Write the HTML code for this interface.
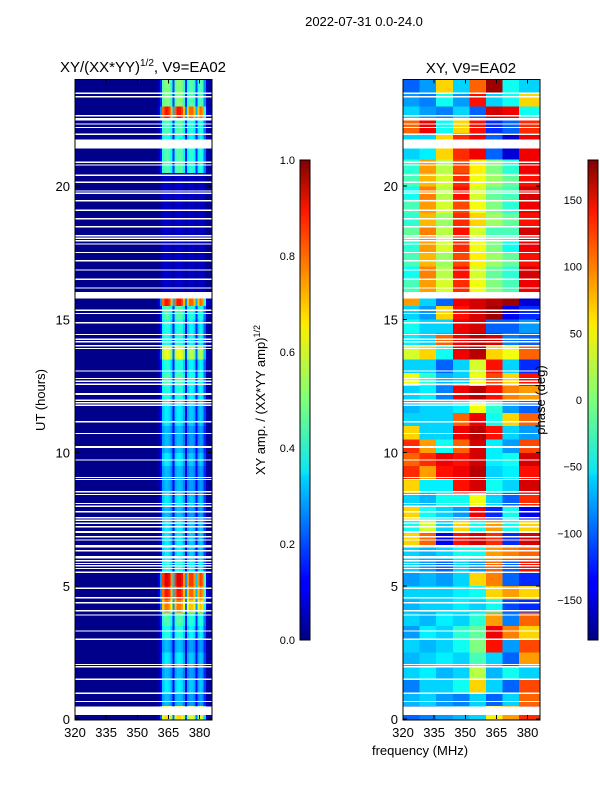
<!DOCTYPE html>
<html><head><meta charset="utf-8"><style>
html,body{margin:0;padding:0;background:#fff;}
body{width:600px;height:800px;overflow:hidden;font-family:"Liberation Sans","DejaVu Sans",sans-serif;}
svg text{font-family:"Liberation Sans","DejaVu Sans",sans-serif;fill:#000;}
</style></head><body>
<svg id="fig" width="600" height="800" viewBox="0 0 600 800" xmlns="http://www.w3.org/2000/svg" shape-rendering="crispEdges">
<defs>
<linearGradient id="jet" x1="0" y1="1" x2="0" y2="0">
<stop offset="0" stop-color="#000080"/><stop offset="0.11" stop-color="#0000ff"/><stop offset="0.125" stop-color="#0000ff"/>
<stop offset="0.34" stop-color="#00d4ff"/><stop offset="0.35" stop-color="#0de5f2"/><stop offset="0.5" stop-color="#7dff7a"/>
<stop offset="0.64" stop-color="#f2f00d"/><stop offset="0.66" stop-color="#ffea00"/><stop offset="0.89" stop-color="#ff1a00"/>
<stop offset="1" stop-color="#800000"/>
</linearGradient>
</defs>
<text x="364" y="26" font-size="13" text-anchor="middle">2022-07-31 0.0-24.0</text>
<text x="143" y="72" font-size="15" text-anchor="middle">XY/(XX*YY)<tspan font-size="10" dy="-6">1/2</tspan><tspan dy="6">, V9=EA02</tspan></text>
<text x="471" y="73" font-size="15" text-anchor="middle">XY, V9=EA02</text>
<g id="leftCells"></g>
<g id="rightCells"></g>
<g id="axes"></g>
<rect x="300" y="160" width="10" height="480" fill="url(#jet)" stroke="#000" stroke-width="1"/>
<rect x="588" y="160" width="10" height="480" fill="url(#jet)" stroke="#000" stroke-width="1"/>
<text transform="translate(45,400) rotate(-90)" font-size="13" text-anchor="middle">UT (hours)</text>
<text x="420" y="755" font-size="13" text-anchor="middle">frequency (MHz)</text>
<text transform="translate(265,400) rotate(-90)" font-size="13" text-anchor="middle">XY amp. / (XX*YY amp)<tspan font-size="9" dy="-5">1/2</tspan></text>
<text transform="translate(545,400) rotate(-90)" font-size="13" text-anchor="middle">phase (deg)</text>
</svg>
<script>
// ---- data ----
var ampLevel = [0.65,0.3,0.35,0.3,0.35,0.3,0.4,0.45,0.75,0.85,0.9,0.4,0.35,0.35,0.35,0.3,0.35,0.3,0.3,0.35,0.3,0.3,0.35,0.35,0.4,0.45,0.4,0.6,0.4,0.4,0.45,0.85,0.06,0.06,0.06,0.06,0.06,0.06,0.06,0.06,0.06,0.45,0.45,0.4,0.45,0.85,0.5,0.5];
var gainFreqs = [360,361,362,363,364,365,366,367,368,369,370,371,372,373,374,375,376,377,378,379,380,381,382,383,384,385];
var chanGain = [0.1,0.3,0.9,1,1,0.95,0.8,0.35,0.9,1,1,0.95,0.8,0.3,0.8,0.9,0.9,0.8,0.35,0.8,0.9,0.85,0.5,0.1,0.05,0.05];
var phaseCols = [320,328,336,344,352,360,368,376,386];
var phase = [
[-100,-90,-80,-70,-60,50,80,120],[-70,-60,-80,-90,-60,-100,-60,100],[-90,-60,-60,-40,60,-60,-100,110],[-60,-50,-70,-60,20,-70,-40,-60],
[-70,-60,-50,-60,-20,-60,-100,80],[-60,-70,-60,-40,0,130,-80,110],[-80,-50,-60,-30,-10,140,90,60],[-60,-70,-50,-60,-30,80,-90,100],
[-70,-60,-60,-50,-60,-40,-110,-120],[-60,-60,-60,-50,-40,60,80,60],[-80,-70,-80,-60,60,90,-100,-120],[-60,-80,-100,-60,-80,100,-100,130],
[-60,-70,-60,-40,-40,80,90,100],[60,100,-140,130,150,120,-120,150],[-40,30,-60,60,-40,80,-40,60],[60,-40,-60,-80,140,-120,-40,-140],
[-60,-70,-40,-40,40,-60,-100,120],[60,-50,-50,130,150,-40,-60,150],[120,80,130,140,160,-60,-50,130],[100,120,140,130,150,-50,-40,150],
[120,80,-40,100,150,-50,-80,110],[60,-60,-60,140,160,130,-60,-80],[-60,-60,-60,100,140,-40,60,100],[-70,-60,-60,-50,40,-30,-80,-100],
[-60,-50,-90,140,160,130,90,80],[40,-30,-70,-60,40,110,60,130],[-60,-60,-100,-60,30,130,-60,-120],[30,60,-40,140,160,60,40,100],
[-50,-60,100,140,160,150,-90,-100],[-40,-60,-60,140,150,-100,-100,-80],[-60,-80,60,130,150,170,-140,-120],[80,-60,-100,140,150,160,170,-150],
[-20,80,30,120,40,0,-20,140],[-40,90,20,130,30,-10,-30,150],[-20,70,10,110,50,10,-10,130],[-30,80,30,120,40,0,-40,140],
[-10,90,20,130,30,-20,-20,150],[-30,70,10,120,60,10,-10,130],[-20,80,30,110,40,0,-30,140],[-40,90,20,130,30,-10,-20,150],
[-20,70,30,120,40,10,-10,130],[-30,80,20,110,50,0,-30,140],[-60,-50,60,120,140,-100,-150,140],[-60,-60,60,120,140,-100,-150,140],
[100,140,-40,60,130,-120,-100,120],[-60,-80,-90,-60,-100,150,140,-40],[-80,-90,-40,-80,130,-60,-40,60],[-100,-80,60,-60,100,170,-40,-60]];
var flags = [[0.15,0.46],[0.63,0.68],[0.94,0.99],[1.47,1.52],[1.94,1.98],[2.03,2.07],[2.97,3.02],[3.28,3.33],[3.88,3.93],[4.04,4.09],[4.34,4.39],[4.53,4.58],[4.88,4.93],
[5.48,5.53],[5.63,5.67],[5.73,5.77],[5.82,5.86],[5.92,5.96],[6.03,6.12],[6.3,6.34],[6.43,6.53],[6.7,6.74],[6.82,6.86],[6.98,7.05],[7.2,7.24],[7.32,7.37],[7.43,7.48],[7.53,7.58],[7.76,7.8],[7.97,8.01],[8.07,8.11],[8.41,8.45],[8.51,8.55],[8.97,9.01],[9.05,9.09],[9.7,9.74],[10.16,10.24],[10.7,10.74],[11.14,11.18],[11.76,11.8],[11.85,11.89],
[11.95,11.99],[12.16,12.24],[12.54,12.58],[12.66,12.7],[12.76,12.8],[13.04,13.08],[13.89,13.93],[13.99,14.03],[14.14,14.18],[14.23,14.27],[14.41,14.45],[14.85,14.89],[15.2,15.24],[15.32,15.36],[15.78,16.03],[16.16,16.2],[16.49,16.53],[16.83,16.87],[17.18,17.22],[17.49,17.53],[17.8,17.85],[17.93,17.97],[18.02,18.06],[18.12,18.16],[18.45,18.49],[18.75,18.79],[19.08,19.12],[19.43,19.47],[19.71,19.75],[19.8,19.84],[20.12,20.16],[20.39,20.43],[20.77,20.81],[20.87,20.91],[21.41,21.75],[21.93,21.97],[22.18,22.22],[22.31,22.35],[22.46,22.56],[22.62,22.66],[23.33,23.37],[23.46,23.5]];
var yTicks = [0,5,10,15,20];
var xTicks = [320,335,350,365,380];
var ampTicks = [0.0,0.2,0.4,0.6,0.8,1.0];
var phaseTicks = [-150,-100,-50,0,50,100,150];
// ---- scales ----
var NS='http://www.w3.org/2000/svg';
var fMin=320,fMax=386,tMax=24,y0=719,yTop=79.4;
function yT(t){return y0-(y0-yTop)*t/tMax;}
function xF(f,left){return left+(f-fMin)*137/(fMax-fMin);}
function jet(v){v=Math.max(0,Math.min(1,v));
 function c(x){return Math.round(255*Math.max(0,Math.min(1,x)));}
 var r=c(Math.min(4*v-1.5,-4*v+4.5)),g=c(Math.min(4*v-0.5,-4*v+3.5)),b=c(Math.min(4*v+0.5,-4*v+2.5));
 return 'rgb('+r+','+g+','+b+')';}
function rect(g,x,y,w,h,fill,name){var r=document.createElementNS(NS,'rect');
 r.setAttribute('x',x);r.setAttribute('y',y);r.setAttribute('width',w);r.setAttribute('height',h);r.setAttribute('fill',fill);
 
 
 g.appendChild(r);return r;}
function txt(g,x,y,s,anchor,name){var t=document.createElementNS(NS,'text');
 t.setAttribute('x',x);t.setAttribute('y',y);t.setAttribute('font-size','13');t.setAttribute('text-anchor',anchor);t.textContent=s;
 
 
 g.appendChild(t);}
function line(g,x1,y1,x2,y2,name){var l=document.createElementNS(NS,'line');
 l.setAttribute('x1',x1);l.setAttribute('y1',y1);l.setAttribute('x2',x2);l.setAttribute('y2',y2);l.setAttribute('stroke','#000');
 
 
 g.appendChild(l);}
// ---- left amplitude ----
var gl=document.getElementById('leftCells');
var dt=tMax/ampLevel.length;
for(var i=0;i<ampLevel.length;i++){
 var ya=yT((i+1)*dt),yb=yT(i*dt);
 rect(gl,75,ya,137,yb-ya+0.3,jet(0.01),'amp-row-base');
 for(var j=0;j<gainFreqs.length;j++){
  var xa=xF(gainFreqs[j],75),xb=xF(gainFreqs[j]+1,75);
  rect(gl,xa,ya,xb-xa+0.3,yb-ya+0.3,jet(0.01+chanGain[j]*ampLevel[i]),'amp-cell');
 }
}
// ---- right phase ----
var gr=document.getElementById('rightCells');
var dp=tMax/phase.length;
for(var i=0;i<phase.length;i++){
 var ya=yT((i+1)*dp),yb=yT(i*dp);
 for(var j=0;j<phase[i].length;j++){
  var xa=xF(phaseCols[j],403),xb=xF(phaseCols[j+1],403);
  rect(gr,xa,ya,xb-xa+0.3,yb-ya+0.3,jet((phase[i][j]+180)/360),'phase-cell');
 }
}
// ---- flags ----
var panels=[[75,gl],[403,gr]];
panels.forEach(function(p){
 flags.forEach(function(f){var ya=yT(f[1]),yb=yT(f[0]);
  rect(p[1],p[0],ya,137,Math.max(1.3,yb-ya),'#ffffff','flagged-row');});
});
// ---- axes ----
var ga=document.getElementById('axes');
panels.forEach(function(p){
 var L=p[0];
 var fr=rect(ga,L,yTop,137,y0-yTop+1,'none','panel-frame');fr.setAttribute('stroke','#000');
 yTicks.forEach(function(t){var y=yT(t);line(ga,L,y,L+4,y,'y-tick');line(ga,L+137,y,L+133,y,'y-tick');
  txt(ga,L-5,y+5,String(t),'end','y-tick-label');});
 xTicks.forEach(function(f){var x=xF(f,L);line(ga,x,y0,x,y0-4,'x-tick');line(ga,x,yTop,x,yTop+4,'x-tick');
  txt(ga,x,y0+18,String(f),'middle','x-tick-label');});
});
ampTicks.forEach(function(v){var y=640-480*v;line(ga,300,y,303,y,'amp-tick');line(ga,310,y,307,y,'amp-tick');
 var t=document.createElementNS(NS,'text');t.setAttribute('x',295);t.setAttribute('y',y+4);t.setAttribute('font-size','11');t.setAttribute('text-anchor','end');t.textContent=v.toFixed(1);
 
 
 ga.appendChild(t);});
phaseTicks.forEach(function(v){var y=640-480*(v+180)/360;line(ga,588,y,591,y,'phase-tick');line(ga,598,y,595,y,'phase-tick');
 var t=document.createElementNS(NS,'text');t.setAttribute('x',582);t.setAttribute('y',y+4);t.setAttribute('font-size','11');t.setAttribute('text-anchor','end');t.textContent=(v<0?'\u2212'+(-v):String(v));
 
 
 ga.appendChild(t);});
</script>
</body></html>
